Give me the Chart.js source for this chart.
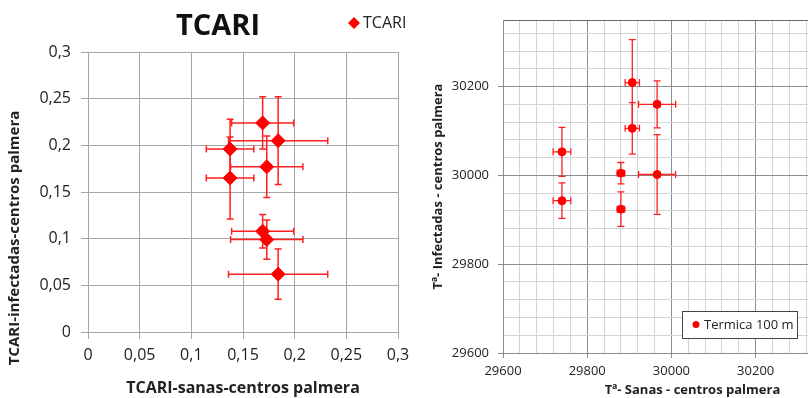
<!DOCTYPE html>
<html>
<head>
<meta charset="utf-8">
<script src="https://cdn.jsdelivr.net/npm/chart.js@4.4.1/dist/chart.umd.min.js"></script>
<style>
  html, body { margin: 0; padding: 0; background: #fff; }
  body { width: 808px; height: 398px; overflow: hidden; position: relative; }
  #left { position: absolute; left: 0; top: 0; }
  #right { position: absolute; left: 400px; top: 0; }
</style>
</head>
<body>
<canvas id="left" width="420" height="398"></canvas>
<canvas id="right" width="502" height="398"></canvas>
<script>
// left chart: TCARI sanas vs infectadas
var tcariSanas = [0.169, 0.184, 0.1375, 0.1375, 0.173, 0.169, 0.173, 0.184];
var tcariInf = [0.224, 0.205, 0.196, 0.165, 0.177, 0.108, 0.099, 0.062];
var tcariSanasErr = [0.030, 0.048, 0.023, 0.023, 0.035, 0.030, 0.035, 0.048];
var tcariInfErr = [0.028, 0.047, 0.032, 0.044, 0.033, 0.018, 0.021, 0.027];
var tcariTicks = [0, 0.05, 0.1, 0.15, 0.2, 0.25, 0.3];

// right chart: temperatura sanas vs infectadas
var tempSanas = [29907, 29966, 29907, 29740, 29740, 29880, 29880, 29966];
var tempInf = [30209, 30160, 30106, 30053, 29943, 30005, 29924, 30002];
var tempSanasErr = [17, 44, 17, 21, 21, 9, 9, 44];
var tempInfErr = [97, 53, 58, 55, 40, 24, 39, 90];
var tempMajorTicks = [29600, 29800, 30000, 30200, 30400];

var FONT = "'Open Sans', sans-serif";
Chart.defaults.font.family = FONT;
Chart.defaults.color = '#222';

function toPoints(xs, ys) {
    var pts = [];
    for (var i = 0; i < xs.length; i++) pts.push({x: xs[i], y: ys[i]});
    return pts;
}

// error bars, drawn through the chart's own scales
var errorBars = {
    id: 'errorBars',
    beforeDatasetsDraw: function(chart, args, opts) {
        var ctx = chart.ctx, xs = chart.scales.x, ys = chart.scales.y;
        var data = chart.data.datasets[0].data;
        ctx.save();
        ctx.strokeStyle = opts.color;
        ctx.lineWidth = opts.width;
        for (var i = 0; i < data.length; i++) {
            var px = xs.getPixelForValue(data[i].x), py = ys.getPixelForValue(data[i].y);
            var x0 = xs.getPixelForValue(data[i].x - opts.xErr[i]);
            var x1 = xs.getPixelForValue(data[i].x + opts.xErr[i]);
            var y0 = ys.getPixelForValue(data[i].y - opts.yErr[i]);
            var y1 = ys.getPixelForValue(data[i].y + opts.yErr[i]);
            var c = opts.cap;
            ctx.beginPath();
            ctx.moveTo(x0, py); ctx.lineTo(x1, py);
            ctx.moveTo(x0, py - c); ctx.lineTo(x0, py + c);
            ctx.moveTo(x1, py - c); ctx.lineTo(x1, py + c);
            ctx.moveTo(px, y0); ctx.lineTo(px, y1);
            ctx.moveTo(px - c, y0); ctx.lineTo(px + c, y0);
            ctx.moveTo(px - c, y1); ctx.lineTo(px + c, y1);
            ctx.stroke();
        }
        ctx.restore();
    }
};

// title, legend and rotated y title of the left chart
var leftExtras = {
    id: 'leftExtras',
    afterDraw: function(chart) {
        var ctx = chart.ctx;
        ctx.save();
        ctx.fillStyle = '#111';
        ctx.font = 'bold 29px ' + FONT;
        ctx.textAlign = 'center';
        ctx.textBaseline = 'alphabetic';
        ctx.fillText('TCARI', 218, 35);
        ctx.fillStyle = '#ff0000';
        ctx.beginPath();
        ctx.moveTo(354, 17); ctx.lineTo(360, 23); ctx.lineTo(354, 29); ctx.lineTo(348, 23);
        ctx.closePath();
        ctx.fill();
        ctx.fillStyle = '#222';
        ctx.font = '16px ' + FONT;
        ctx.textAlign = 'left';
        ctx.textBaseline = 'middle';
        ctx.fillText('TCARI', 363, 23);
        ctx.translate(15, 238);
        ctx.rotate(-Math.PI / 2);
        ctx.font = 'bold 15px ' + FONT;
        ctx.textAlign = 'center';
        ctx.fillText('TCARI-infectadas-centros palmera', 0, 0);
        ctx.restore();
    }
};

var rightLegend = {
    id: 'rightLegend',
    afterDraw: function(chart) {
        var ctx = chart.ctx;
        ctx.save();
        ctx.fillStyle = '#fff';
        ctx.fillRect(282.5, 311.5, 115, 27);
        ctx.strokeStyle = '#444';
        ctx.lineWidth = 1;
        ctx.strokeRect(282.5, 311.5, 115, 27);
        ctx.fillStyle = '#ff0000';
        ctx.beginPath();
        ctx.arc(296, 324.5, 3.5, 0, Math.PI * 2);
        ctx.fill();
        ctx.fillStyle = '#222';
        ctx.font = '13px ' + FONT;
        ctx.textBaseline = 'middle';
        ctx.fillText('Termica 100 m', 304, 325);
        ctx.restore();
    }
};

function comma(v) {
    return String(Math.round(v * 100) / 100).replace('.', ',');
}

new Chart(document.getElementById('left').getContext('2d'), {
    type: 'scatter',
    data: {
        datasets: [{
            label: 'TCARI',
            data: toPoints(tcariSanas, tcariInf),
            backgroundColor: '#ff0000',
            borderColor: '#ff0000',
            pointStyle: 'rectRot',
            pointRadius: 7,
            pointHoverRadius: 7
        }]
    },
    options: {
        responsive: false,
        animation: false,
        layout: {padding: {left: 0, right: 22, top: 52, bottom: 0}},
        plugins: {
            legend: {display: false},
            tooltip: {enabled: false},
            title: {display: false},
            errorBars: {xErr: tcariSanasErr, yErr: tcariInfErr, cap: 3.5, color: '#ff2020', width: 1.5}
        },
        scales: {
            x: {
                min: 0, max: 0.3,
                afterBuildTicks: function(s) { s.ticks = tcariTicks.map(function(v) { return {value: v}; }); },
                afterFit: function(s) { s.height = 66; },
                grid: {color: '#a6a6a6', tickLength: 7, lineWidth: 1},
                border: {color: '#a6a6a6'},
                ticks: {font: {size: 16}, padding: 7, maxRotation: 0, callback: comma},
                title: {display: true, text: 'TCARI-sanas-centros palmera', font: {size: 16, weight: 'bold'}, padding: {top: 1, bottom: 0}}
            },
            y: {
                min: 0, max: 0.3,
                afterBuildTicks: function(s) { s.ticks = tcariTicks.map(function(v) { return {value: v}; }); },
                afterFit: function(s) { s.width = 88; },
                grid: {color: '#a6a6a6', tickLength: 7, lineWidth: 1},
                border: {color: '#a6a6a6'},
                ticks: {font: {size: 16}, padding: 10, callback: comma}
            }
        }
    },
    plugins: [errorBars, leftExtras]
});

function tempTicks(s) {
    var t = [];
    for (var v = s.min; v < s.max; v += 40) t.push({value: v});
    t.push({value: s.max});
    s.ticks = t;
}
function isMajor(v) { return tempMajorTicks.indexOf(v) >= 0; }

new Chart(document.getElementById('right').getContext('2d'), {
    type: 'scatter',
    data: {
        datasets: [{
            label: 'Termica 100 m',
            data: toPoints(tempSanas, tempInf),
            backgroundColor: '#ff0000',
            borderColor: '#ff0000',
            pointStyle: 'circle',
            pointRadius: 4,
            pointHoverRadius: 4
        }]
    },
    options: {
        responsive: false,
        animation: false,
        layout: {padding: {left: 0, right: 20, top: 20, bottom: 0}},
        plugins: {
            legend: {display: false},
            tooltip: {enabled: false},
            errorBars: {xErr: tempSanasErr, yErr: tempInfErr, cap: 3.5, color: '#ff2020', width: 1.3}
        },
        scales: {
            x: {
                min: 29600, max: 30500,
                afterBuildTicks: tempTicks,
                afterFit: function(s) { s.height = 45; },
                grid: {
                    color: function(c) { return isMajor(c.tick.value) ? '#8c8c8c' : '#d4d4d4'; },
                    tickColor: function(c) { return isMajor(c.tick.value) ? '#8c8c8c' : 'rgba(0,0,0,0)'; },
                    tickLength: 5
                },
                border: {color: '#8c8c8c'},
                ticks: {
                    font: {size: 13}, padding: 5, maxRotation: 0, autoSkip: false,
                    callback: function(v) { return isMajor(v) ? String(v) : ''; }
                },
                title: {display: true, text: 'Tª- Sanas - centros palmera', font: {size: 13, weight: 'bold'}, padding: {top: 2, bottom: 0}}
            },
            y: {
                min: 29600, max: 30350,
                afterBuildTicks: tempTicks,
                afterFit: function(s) { s.width = 103; },
                grid: {
                    color: function(c) {
                        if (c.tick.value === 30350) return '#666';
                        return isMajor(c.tick.value) ? '#8c8c8c' : '#d4d4d4';
                    },
                    tickColor: function(c) { return isMajor(c.tick.value) ? '#8c8c8c' : 'rgba(0,0,0,0)'; },
                    tickLength: 5
                },
                border: {color: '#8c8c8c'},
                ticks: {
                    font: {size: 13}, padding: 9, autoSkip: false,
                    callback: function(v) { return isMajor(v) ? String(v) : ''; }
                },
                title: {display: true, text: 'Tª- Infectadas - centros palmera', font: {size: 13, weight: 'bold'}, padding: {top: 30, bottom: 0}}
            }
        }
    },
    plugins: [errorBars, rightLegend]
});
</script>
</body>
</html>
